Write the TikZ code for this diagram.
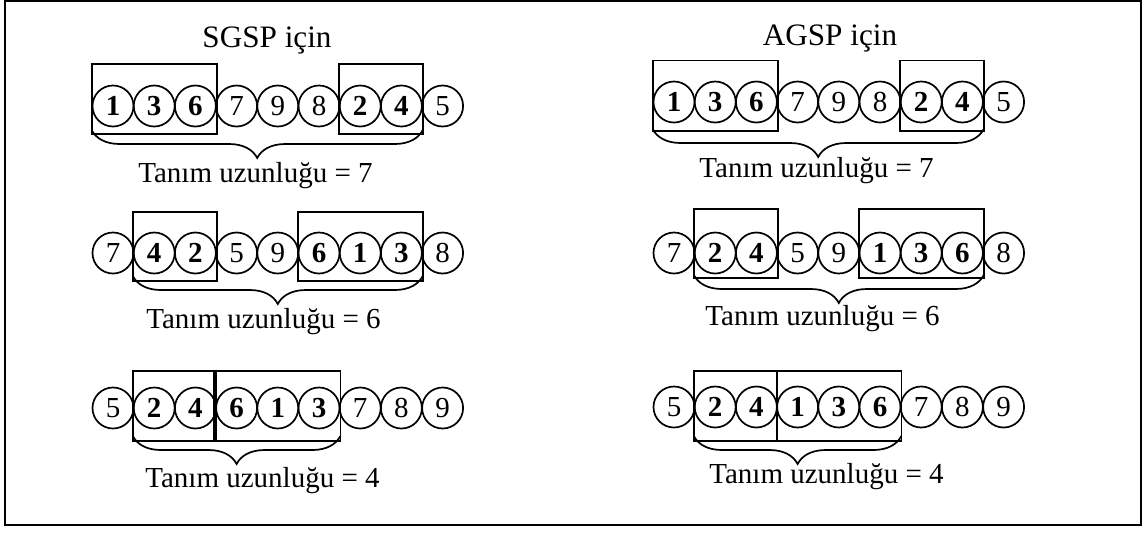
\documentclass[tikz,border=0pt]{standalone}
\usepackage{fontspec}
\setmainfont{Liberation Serif}
\usepackage{tikz}
\usetikzlibrary{decorations.pathreplacing}

\begin{document}
\begin{tikzpicture}[x=0.5pt, y=-0.5pt, line width=0.85pt,
  gen/.style={circle, draw, minimum size=20.5pt, inner sep=0pt, font=\fontsize{14.5}{16}\selectfont},
  lbl/.style={anchor=base, font=\fontsize{14.5}{16}\selectfont},
  ttl/.style={anchor=base, font=\fontsize{15.6}{18}\selectfont},
  brc/.style={decorate, decoration={brace, amplitude=14pt}}]
  \useasboundingbox (0,0) rectangle (1145,532);
  \draw[line width=1pt] (5,0.5) rectangle (1141,525);

  % SGSP
  \node[ttl] (sgsp) at (267,47) {SGSP için};

  \foreach \v [count=\i] in {\textbf{1},\textbf{3},\textbf{6},7,9,8,\textbf{2},\textbf{4},5}
    \node[gen] (s1-\i) at (71.8+41.2*\i,106) {\v};
  \draw (s1-1.west |- 0,64) rectangle (s1-3.east |- 0,134);
  \draw (s1-7.west |- 0,64) rectangle (s1-8.east |- 0,134);
  \draw[brc] (s1-8.east |- 0,130) -- (s1-1.west |- 0,130);
  \node[lbl] (slen1) at (255.5,182) {Tanım uzunluğu = 7};

  \foreach \v [count=\i] in {7,\textbf{4},\textbf{2},5,9,\textbf{6},\textbf{1},\textbf{3},8}
    \node[gen] (s2-\i) at (71.8+41.2*\i,253) {\v};
  \draw (s2-2.west |- 0,212) rectangle (s2-3.east |- 0,281);
  \draw (s2-6.west |- 0,212) rectangle (s2-8.east |- 0,281);
  \draw[brc] (s2-8.east |- 0,276) -- (s2-2.west |- 0,276);
  \node[lbl] (slen2) at (263.5,328) {Tanım uzunluğu = 6};

  \foreach \v [count=\i] in {5,\textbf{2},\textbf{4},\textbf{6},\textbf{1},\textbf{3},7,8,9}
    \node[gen] (s3-\i) at (71.8+41.2*\i,408) {\v};
  \draw (s3-2.west |- 0,371) rectangle ([xshift=-1.5pt]s3-3.east |- 0,441);
  \draw ([xshift=0.5pt]s3-4.west |- 0,371) rectangle (s3-6.east |- 0,441);
  \draw[brc] (s3-6.east |- 0,436) -- (s3-2.west |- 0,436);
  \node[lbl] (slen3) at (262.5,487) {Tanım uzunluğu = 4};

  % AGSP
  \node[ttl] (agsp) at (830,45) {AGSP için};

  \foreach \v [count=\i] in {\textbf{1},\textbf{3},\textbf{6},7,9,8,\textbf{2},\textbf{4},5}
    \node[gen] (a1-\i) at (632.8+41.2*\i,102) {\v};
  \draw (a1-1.west |- 0,60.5) rectangle (a1-3.east |- 0,131);
  \draw (a1-7.west |- 0,60.5) rectangle (a1-8.east |- 0,131);
  \draw[brc] (a1-8.east |- 0,129) -- (a1-1.west |- 0,129);
  \node[lbl] (alen1) at (816.5,177) {Tanım uzunluğu = 7};

  \foreach \v [count=\i] in {7,\textbf{2},\textbf{4},5,9,\textbf{1},\textbf{3},\textbf{6},8}
    \node[gen] (a2-\i) at (632.8+41.2*\i,253) {\v};
  \draw (a2-2.west |- 0,209) rectangle (a2-3.east |- 0,278);
  \draw (a2-6.west |- 0,209) rectangle (a2-8.east |- 0,278);
  \draw[brc] (a2-8.east |- 0,275) -- (a2-2.west |- 0,275);
  \node[lbl] (alen2) at (822.5,325) {Tanım uzunluğu = 6};

  \foreach \v [count=\i] in {5,\textbf{2},\textbf{4},\textbf{1},\textbf{3},\textbf{6},7,8,9}
    \node[gen] (a3-\i) at (632.8+41.2*\i,407) {\v};
  \draw (a3-2.west |- 0,371) rectangle ([xshift=-0.5pt]a3-3.east |- 0,441);
  \draw ([xshift=0.5pt]a3-4.west |- 0,371) rectangle (a3-6.east |- 0,441);
  \draw[brc] (a3-6.east |- 0,436) -- (a3-2.west |- 0,436);
  \node[lbl] (alen3) at (826.5,483) {Tanım uzunluğu = 4};
\end{tikzpicture}
\end{document}
